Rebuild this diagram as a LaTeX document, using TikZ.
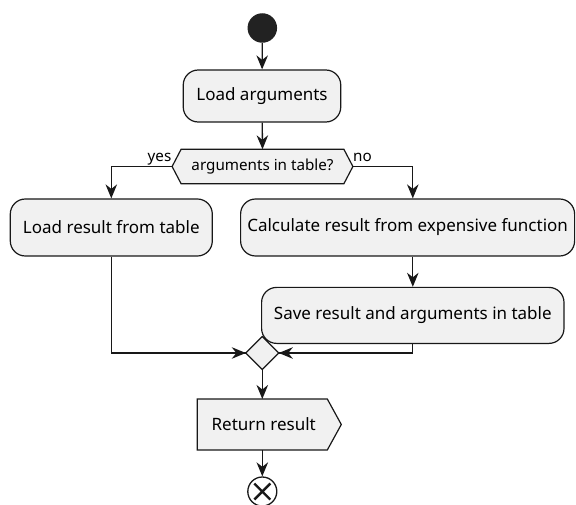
\documentclass[tikz,border=0pt]{standalone}
\usepackage{fontspec}
\setmainfont{Noto Sans}
\usetikzlibrary{arrows.meta}
\definecolor{boxfill}{HTML}{F1F1F1}
\definecolor{edge}{HTML}{181818}
\definecolor{startfill}{HTML}{222222}
\tikzset{
  act/.style={draw=edge, fill=boxfill, line width=1.2pt, rounded corners=15pt, inner sep=0pt,
    font=\fontsize{17pt}{20pt}\selectfont, text=black},
  flow/.style={draw=edge, line width=1.3pt, -{Stealth[length=14pt,width=11.5pt,inset=4.5pt]}},
  plain/.style={draw=edge, line width=1.3pt},
  lbl/.style={font=\fontsize{15.2pt}{17pt}\selectfont, inner sep=0pt, text=black},
}
\begin{document}
\begin{tikzpicture}[x=1pt,y=-1pt]
\useasboundingbox (0,0) rectangle (576,505);
% start
\node[circle, fill=startfill, minimum size=29.5pt, inner sep=0pt] (start) at (262.3,28) {};
% load arguments
\node[act, minimum width=157.5pt, minimum height=52pt] (load) at (262,96) {Load arguments};
% decision hexagon
\node[lbl, minimum width=180.4pt, minimum height=34pt] (dec) at (262.5,166.5) {};
\path[draw=edge, fill=boxfill, line width=1.2pt]
  (dec.west) -- ([xshift=9pt]dec.north west) -- ([xshift=-9pt]dec.north east) -- (dec.east)
  -- ([xshift=-9pt]dec.south east) -- ([xshift=9pt]dec.south west) -- cycle;
\node[lbl] at (dec) {arguments in table?};
% branch boxes
\node[act, minimum width=202pt, minimum height=57pt] (lr) at (111.3,227.5) {Load result from table};
\node[act, minimum width=334pt, minimum height=57pt] (calc) at (407.6,227.5) {Calculate result from expensive function};
\node[act, minimum width=302.4pt, minimum height=56pt] (save) at (412.8,315.4) {Save result and arguments in table};
% merge diamond
\path[draw=edge, fill=boxfill, line width=1.2pt] (262.3,336.5) -- (278.8,353) -- (262.3,369.5) -- (245.8,353) -- cycle;
\coordinate (mw) at (245.8,353);
\coordinate (me) at (278.8,353);
\coordinate (ms) at (262.3,369.5);
% return result
\coordinate (rettop) at (262.3,399);
\coordinate (retbot) at (262.3,450);
\path[draw=edge, fill=boxfill, line width=1.2pt]
  (197.3,399) -- (327.3,399) -- (341.3,424.5) -- (327.3,450) -- (197.3,450) -- cycle;
\node[act, draw=none, fill=none, anchor=west] (ret) at (211,424.5) {Return result};
% end
\node[circle, draw=edge, fill=white, line width=1.3pt, minimum size=29pt, inner sep=0pt] (stop) at (262.3,491.5) {};
\draw[edge, line width=2.4pt] ([shift={(-8,-8)}]stop.center) -- ([shift={(8,8)}]stop.center)
  ([shift={(-8,8)}]stop.center) -- ([shift={(8,-8)}]stop.center);
% connectors
\draw[flow] (start) -- (load);
\draw[flow] (load) -- (dec.north);
\draw[flow] (dec.west) -| (lr.north);
\draw[flow] (dec.east) -| (calc.north -| save.north);
\draw[flow] (calc.south -| save.north) -- (save.north);
\draw[plain] (lr.south) |- (mw);
\draw[flow] (lr.south |- mw) -- (mw);
\draw[plain] (save.south) |- (me);
\draw[flow] (save.south |- me) -- (me);
\draw[flow] (ms) -- (rettop);
\draw[flow] (retbot) -- (stop.north);
% labels
\node[lbl, anchor=base east] at (171.5,161.5) {yes};
\node[lbl, anchor=base west] at (353,161.5) {no};
\end{tikzpicture}
\end{document}
